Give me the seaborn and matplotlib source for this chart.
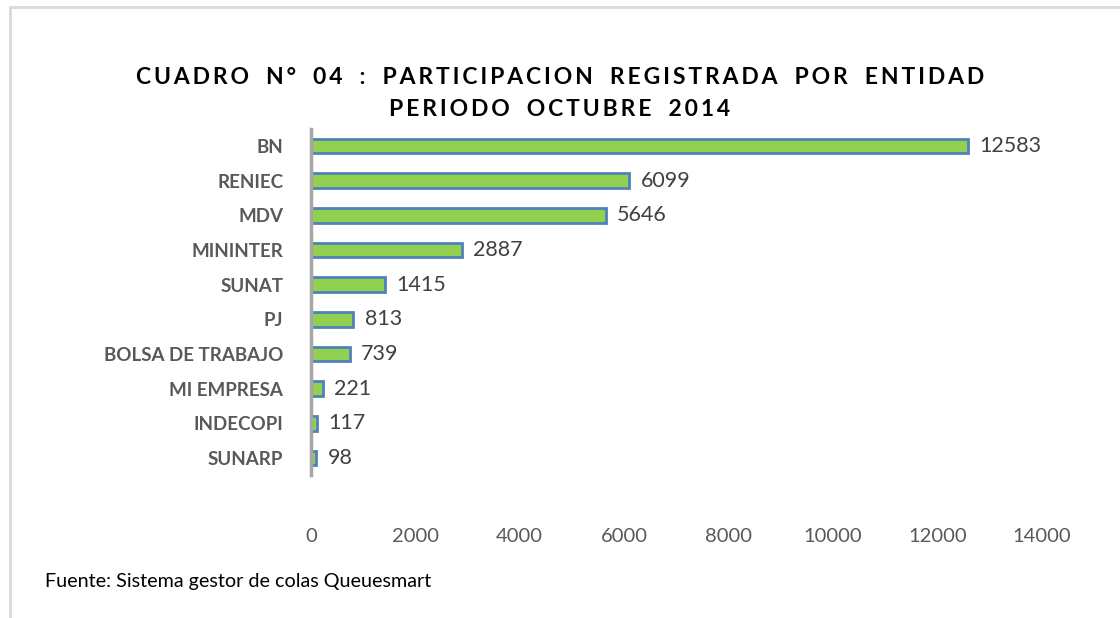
import pandas as pd
import matplotlib.pyplot as plt
import seaborn as sns
from matplotlib.lines import Line2D

# data
entidades = ['BN', 'RENIEC', 'MDV', 'MININTER', 'SUNAT', 'PJ',
             'BOLSA DE TRABAJO', 'MI EMPRESA', 'INDECOPI', 'SUNARP']
atenciones = [12583, 6099, 5646, 2887, 1415, 813, 739, 221, 117, 98]
ticks_x = [0, 2000, 4000, 6000, 8000, 10000, 12000, 14000]

df = pd.DataFrame({'Entidad': entidades, 'Atenciones': atenciones})

sns.set_style('white')
plt.rcParams['font.family'] = ['Lato', 'DejaVu Sans']

fig = plt.figure(figsize=(11.2, 6.18), dpi=100)
ax = fig.add_axes([0.2777, 0.2307, 0.6523, 0.5613])

sns.barplot(data=df, y='Entidad', x='Atenciones', orient='h', ax=ax,
            color='#92D050', edgecolor='#4F81BD', linewidth=2, width=0.42,
            saturation=1)

for i, v in enumerate(atenciones):
    ax.text(v + 220, i, str(v), va='center', ha='left',
            fontsize=15.5, color='#404040')

ax.set_xlim(0, 14000)
ax.set_xticks(ticks_x)
ax.set_xticklabels([str(t) for t in ticks_x], fontsize=14.5, color='#595959')
ax.set_yticks(range(len(entidades)))
ax.set_yticklabels(entidades, fontsize=13.5, fontweight='bold', color='#595959')
ax.tick_params(axis='x', length=0, pad=38)
ax.tick_params(axis='y', length=0, pad=20)
ax.set_xlabel('')
ax.set_ylabel('')

for s in ['top', 'right', 'bottom']:
    ax.spines[s].set_visible(False)
ax.spines['left'].set_color('#A6A6A6')
ax.spines['left'].set_linewidth(2.5)

def espaciado(txt):
    return '\u2009'.join(txt).replace('\u2009 \u2009', '\u2009\u2009 \u2009\u2009')

fig.text(0.5, 1 - 77 / 618, espaciado('CUADRO N° 04 : PARTICIPACION REGISTRADA POR ENTIDAD'),
         ha='center', va='center', fontsize=16.5, fontweight='bold', color='#000000')
fig.text(0.5, 1 - 110 / 618, espaciado('PERIODO OCTUBRE 2014'),
         ha='center', va='center', fontsize=16.5, fontweight='bold', color='#000000')

fig.text(45 / 1120, 1 - 581 / 618, 'Fuente: Sistema gestor de colas Queuesmart',
         ha='left', va='center', fontsize=14.2, color='#000000')

# marco del grafico
fig.add_artist(Line2D([10 / 1120, 10 / 1120], [0, 1 - 7 / 618], color='#D9D9D9', lw=2))
fig.add_artist(Line2D([10 / 1120, 1], [1 - 7 / 618, 1 - 7 / 618], color='#D9D9D9', lw=2))

fig.savefig('out.png', dpi=100)
